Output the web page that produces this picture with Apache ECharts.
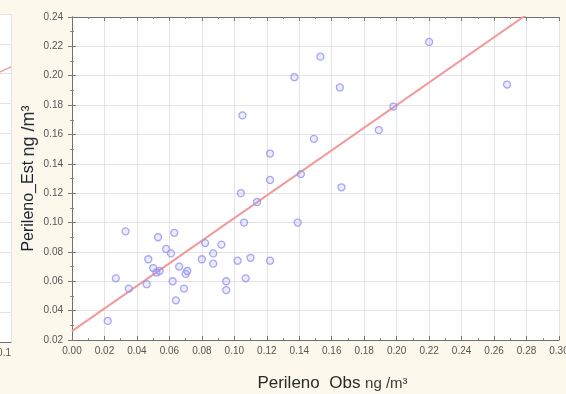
<!DOCTYPE html>
<html>
<head>
<meta charset="utf-8">
<script src="https://cdn.jsdelivr.net/npm/echarts@6/dist/echarts.min.js"></script>
<style>
  html, body { margin: 0; padding: 0; background: #fcf8ec; }
  #chart { width: 566px; height: 394px; }
</style>
</head>
<body>
<div id="chart"></div>
<script>
// Observed vs. estimated perylene concentrations (ng/m³)
const obsValues = [
  0.033, 0.027, 0.035, 0.022, 0.047, 0.046, 0.050, 0.052, 0.054, 0.053,
  0.063, 0.058, 0.061, 0.066, 0.062, 0.064, 0.069, 0.070, 0.071, 0.082,
  0.080, 0.087, 0.087, 0.092, 0.095, 0.095, 0.102, 0.106, 0.107, 0.110,
  0.114, 0.122, 0.139, 0.122, 0.122, 0.104, 0.141, 0.166, 0.105, 0.137,
  0.153, 0.165, 0.149, 0.220, 0.268, 0.198, 0.189
];
const estValues = [
  0.094, 0.062, 0.055, 0.033, 0.075, 0.058, 0.069, 0.066, 0.067, 0.090,
  0.093, 0.082, 0.079, 0.070, 0.060, 0.047, 0.055, 0.065, 0.067, 0.086,
  0.075, 0.079, 0.072, 0.085, 0.060, 0.054, 0.074, 0.100, 0.062, 0.076,
  0.114, 0.074, 0.100, 0.147, 0.129, 0.120, 0.133, 0.124, 0.173, 0.199,
  0.213, 0.192, 0.157, 0.223, 0.194, 0.179, 0.163
];

// Fitted line end points (observed, estimated)
const fitObs = [0.00, 0.30];
const fitEst = [0.026, 0.257];

// Edge of the neighbouring panel on the left
const sideObs = [0.06, 0.10];
const sideEst = [0.180, 0.2045];
const sideTickLabel = '0.1';

const xTitle = 'Perileno  Obs ';
const yTitle = 'Perileno_Est ';
const unitText = 'ng /m³';

const points = obsValues.map((v, i) => [v, estValues[i]]);
const fitLine = fitObs.map((v, i) => [v, fitEst[i]]);
const sideLine = sideObs.map((v, i) => [v, sideEst[i]]);

const font = 'Liberation Sans, Arial, sans-serif';
const frame = { show: true, lineStyle: { color: '#6f6f6f', width: 1 } };
const tickIn = { show: true, inside: true, length: 4, lineStyle: { color: '#777' } };
const minorIn = { show: true, splitNumber: 2, length: 2, lineStyle: { color: '#888' } };
const grid2 = { show: true, lineStyle: { color: '#e4e4e4', width: 1 } };
const labelStyle = { color: '#555', fontSize: 10, fontFamily: font };

const chart = echarts.init(document.getElementById('chart'), null, { renderer: 'canvas' });
chart.setOption({
  backgroundColor: '#fcf8ec',
  animation: false,
  grid: [
    { left: 72, right: 7, top: 17, bottom: 54, show: true, backgroundColor: '#ffffff',
      borderWidth: 0, outerBoundsMode: 'none', containLabel: false },
    { left: -189, width: 200, top: 14, bottom: 52, show: true, backgroundColor: '#ffffff',
      borderWidth: 0, outerBoundsMode: 'none', containLabel: false }
  ],
  xAxis: [
    {
      gridIndex: 0, type: 'value', position: 'bottom', min: 0, max: 0.30, interval: 0.02,
      axisLine: frame, axisTick: tickIn, minorTick: minorIn, splitLine: grid2,
      axisLabel: Object.assign({ margin: 6, formatter: v => v.toFixed(2) }, labelStyle),
      name: '{a|' + xTitle + '}{b|' + unitText + '}', nameLocation: 'middle', nameGap: 35,
      nameTextStyle: {
        padding: [0, 0, 0, 34],
        rich: {
          a: { fontSize: 17, color: '#2a2a2a', fontFamily: font },
          b: { fontSize: 15, color: '#3a3a3a', fontFamily: font }
        }
      }
    },
    {
      gridIndex: 0, type: 'value', position: 'top', min: 0, max: 0.30, interval: 0.02,
      axisLine: frame, axisTick: tickIn, minorTick: minorIn, splitLine: { show: false },
      axisLabel: { show: false }
    },
    {
      gridIndex: 1, type: 'value', position: 'bottom', min: 0, max: 0.10, interval: 0.02,
      axisLine: frame, axisTick: { show: false }, splitLine: grid2,
      axisLabel: Object.assign({
        margin: 6, align: 'right',
        formatter: v => (Math.abs(v - 0.10) < 1e-9 ? sideTickLabel : '')
      }, labelStyle)
    }
  ],
  yAxis: [
    {
      gridIndex: 0, type: 'value', position: 'left', min: 0.02, max: 0.24, interval: 0.02,
      axisLine: frame, axisTick: tickIn, minorTick: minorIn, splitLine: grid2,
      axisLabel: Object.assign({ margin: 9, formatter: v => v.toFixed(2) }, labelStyle),
      name: '{a|' + yTitle + '}{b|' + unitText + '}', nameLocation: 'middle', nameGap: 34,
      nameMoveOverlap: false,
      nameRotate: 90,
      nameTextStyle: {
        rich: {
          a: { fontSize: 16, color: '#1f2230', fontFamily: font },
          b: { fontSize: 18, color: '#2a2d3a', fontFamily: font }
        }
      }
    },
    {
      gridIndex: 0, type: 'value', position: 'right', min: 0.02, max: 0.24, interval: 0.02,
      axisLine: frame, axisTick: tickIn, minorTick: minorIn, splitLine: { show: false },
      axisLabel: { show: false }
    },
    {
      gridIndex: 1, type: 'value', position: 'right', min: 0.02, max: 0.24, interval: 0.02,
      axisLine: frame, axisTick: tickIn, minorTick: minorIn, splitLine: grid2,
      axisLabel: { show: false }
    }
  ],
  series: [
    {
      type: 'line', xAxisIndex: 0, yAxisIndex: 0, data: fitLine, clip: true,
      showSymbol: false, symbol: 'none',
      lineStyle: { color: '#f29a9a', width: 2 }, z: 2
    },
    {
      type: 'scatter', xAxisIndex: 0, yAxisIndex: 0, data: points,
      symbol: 'circle', symbolSize: 7,
      itemStyle: { color: 'rgba(150,150,255,0.22)', borderColor: '#9494f2', borderWidth: 1.3 },
      z: 3
    },
    {
      type: 'line', xAxisIndex: 2, yAxisIndex: 2, data: sideLine, clip: true,
      showSymbol: false, symbol: 'none',
      lineStyle: { color: '#f29a9a', width: 1.5 }
    }
  ]
});
</script>
</body>
</html>
